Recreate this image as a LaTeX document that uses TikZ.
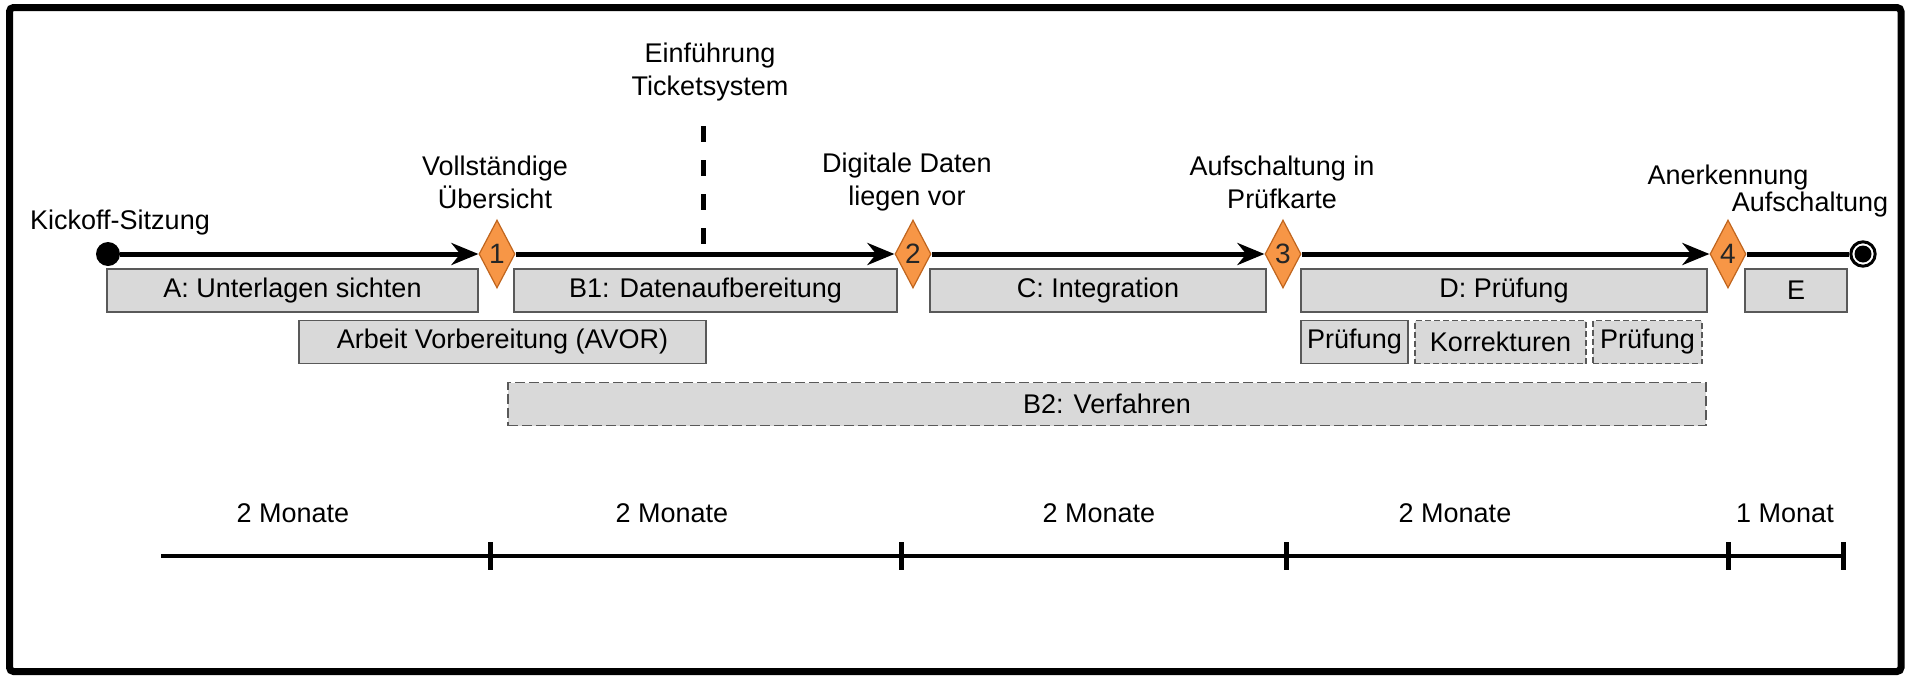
\documentclass[tikz,border=0pt]{standalone}
\usepackage{fontspec}
\setmainfont{Liberation Sans}
\usetikzlibrary{arrows.meta,positioning,shapes.geometric}
\definecolor{boxfill}{HTML}{D9D9D9}
\definecolor{boxline}{HTML}{595959}
\definecolor{msfill}{HTML}{F79646}
\definecolor{msline}{HTML}{C0651E}

\begin{document}
\begin{tikzpicture}[x=0.5pt, y=-0.5pt,
  lbl/.style={font=\fontsize{13.5}{16.5}\selectfont, inner sep=0pt, align=center},
  phase/.style={draw=boxline, line width=0.75pt, fill=boxfill, minimum height=21.5pt, inner xsep=2pt, inner ysep=0pt, font=\fontsize{13.5}{16.5}\selectfont},
  phasedash/.style={phase, dash pattern=on 3pt off 1.5pt},
  ms/.style={diamond, aspect=0.5, draw=msline, line width=0.6pt, fill=msfill, minimum width=18pt, minimum height=34pt, inner sep=0pt, font=\fontsize{14}{14}\selectfont, text=black!85},
  tl/.style={line width=2.5pt, black},
  arr/.style={-{Stealth[length=13.5pt, width=11pt]}},
  axis/.style={line width=2pt, black}
]
  \useasboundingbox (0,0) rectangle (1907,675);
  \draw[line width=3.5pt, rounded corners=2pt] (9.5,7.5) rectangle (1901,671.5);

  % milestones on the time line
  \node[circle, fill=black, minimum size=12pt, inner sep=0pt] (kick) at (108,254) {};
  \node[ms] (m1) at (497,254) {1};
  \node[ms] (m2) at (913,254) {2};
  \node[ms] (m3) at (1283,254) {3};
  \node[ms] (m4) at (1728,254) {4};
  \node[circle, draw, line width=1.5pt, fill=white, minimum size=12.2pt, inner sep=0pt] (fin) at (1863,254) {};
  \node[circle, fill=black, minimum size=8.5pt, inner sep=0pt] (fincore) at (fin) {};

  \draw[tl, arr] (kick) -- (m1.west);
  \draw[tl, arr] (m1.east) -- (m2.west);
  \draw[tl, arr] (m2.east) -- (m3.west);
  \draw[tl, arr] (m3.east) -- (m4.west);
  \draw[tl] (m4.east) -- (fin.west);

  \node[lbl] (kicktxt) at (120,223) {Kickoff-Sitzung};
  \node[lbl] (m1txt) at (495,182) {Vollständige\\Übersicht};
  \node[lbl] (m2txt) at (907,182) {Digitale Daten\\liegen vor};
  \node[lbl] (m3txt) at (1282,182) {Aufschaltung in\\Prüfkarte};
  \node[lbl] (m4txt) at (1728,178) {Anerkennung};
  \node[lbl] (fintxt) at (1810,205) {Aufschaltung};

  % ticket system marker
  \node[lbl] (ticket) at (710,72) {Einführung\\Ticketsystem};
  \coordinate (tktop) at (703,126);
  \coordinate (tkbot) at (703,244);
  \draw[line width=2.5pt, dash pattern=on 8pt off 9pt] (tktop) -- (tkbot);

  % work packages
  \node[phase, minimum width=185.5pt] (pa) at (292.5,290.5) {A: Unterlagen sichten};
  \node[phase, minimum width=191.5pt] (pb1) at (705.5,290.5) {B1: Datenaufbereitung};
  \node[phase, minimum width=168pt] (pc) at (1098,290.5) {C: Integration};
  \node[phase, minimum width=203pt] (pd) at (1504,290.5) {D: Prüfung};
  \node[phase, minimum width=51pt] (pe) at (1796,290.5) {E};

  \node[phase, minimum width=203.5pt] (avor) at (502.5,342) {Arbeit Vorbereitung (AVOR)};
  \node[phase, minimum width=53.5pt] (pd1) at (1354.5,342) {Prüfung};
  \node[phasedash, minimum width=85.5pt] (pd2) at (1500.5,342) {Korrekturen};
  \node[phasedash, minimum width=54.5pt] (pd3) at (1647.5,342) {Prüfung};

  \node[phase, dash pattern=on 5pt off 2pt, minimum width=599pt] (pb2) at (1107,404) {B2: Verfahren};

  % duration scale
  \draw[axis] (161,556) -- (1843,556);
  \foreach \t in {490,901,1286,1728,1843}
    \draw[line width=2.5pt] (\t,542) -- (\t,570);
  \node[lbl] (dur1) at (293,513) {2 Monate};
  \node[lbl] (dur2) at (672,513) {2 Monate};
  \node[lbl] (dur3) at (1099,513) {2 Monate};
  \node[lbl] (dur4) at (1455,513) {2 Monate};
  \node[lbl] (dur5) at (1785,513) {1 Monat};
\end{tikzpicture}
\end{document}
